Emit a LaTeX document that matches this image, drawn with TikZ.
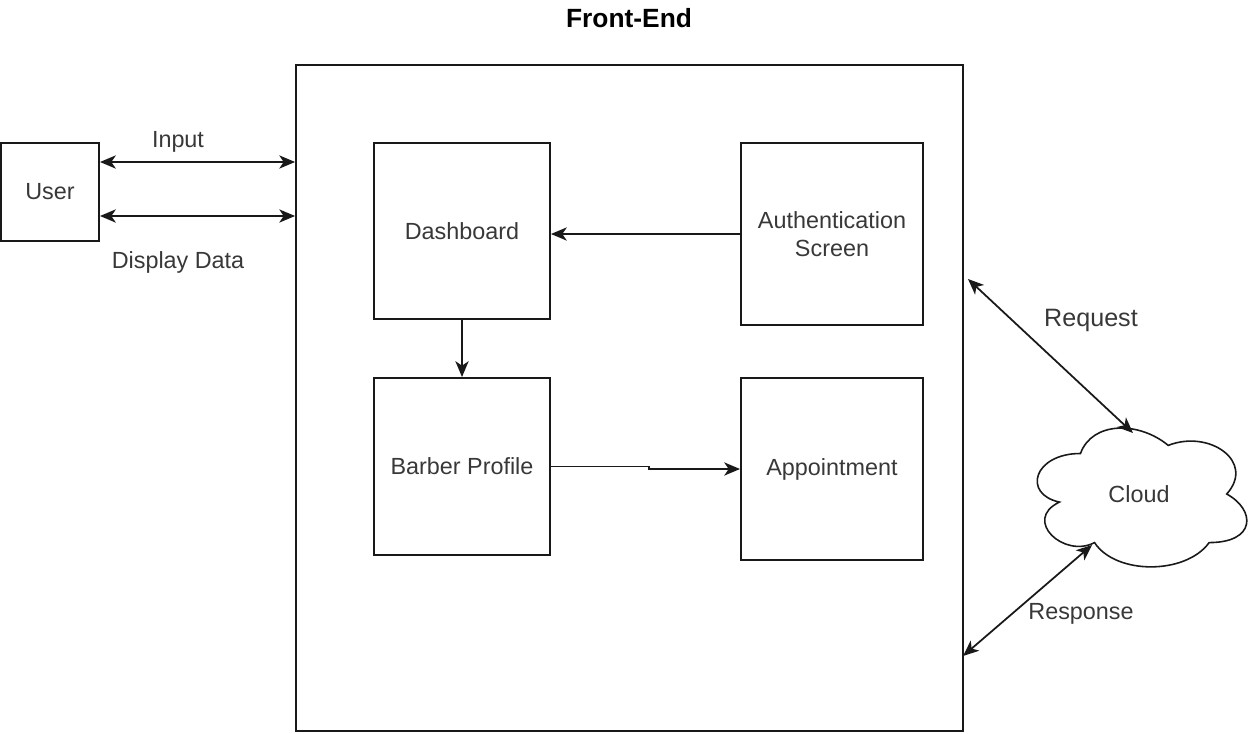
\documentclass[tikz,border=0pt]{standalone}
\usepackage{fontspec}
\setmainfont{Liberation Sans}
\usetikzlibrary{arrows.meta}
\definecolor{txt}{gray}{0.22}
\definecolor{ln}{gray}{0.1}
\tikzset{
  box/.style={draw=ln, line width=1.1pt, inner sep=0pt, text=txt, align=center,
              font=\fontsize{13.3}{16}\selectfont},
  lbl/.style={text=txt, inner sep=0pt, font=\fontsize{13.3}{16}\selectfont},
  conn/.style={draw=ln, line width=1pt, -{Stealth[length=9pt,width=7.5pt,inset=2.5pt]}},
  biconn/.style={draw=ln, line width=1pt, {Stealth[length=9pt,width=7.5pt,inset=2.5pt]}-{Stealth[length=9pt,width=7.5pt,inset=2.5pt]}}
}
\begin{document}
\begin{tikzpicture}[x=0.02cm, y=-0.02cm]
\useasboundingbox (0,0) rectangle (1249,734);
% title
\node[lbl, font=\fontsize{15}{18}\selectfont\bfseries, text=black] (title) at (629,18) {Front-End};
% front-end container
\node[box, minimum width=13.34cm, minimum height=13.32cm] (fe) at (629.5,398) {};
% user
\node[box, minimum width=1.96cm, minimum height=1.96cm] (user) at (50,192) {User};
% inner boxes
\node[box, minimum width=3.52cm, minimum height=3.52cm] (dash) at (462,231) {Dashboard};
\node[box, minimum width=3.64cm, minimum height=3.64cm] (auth) at (832,234) {Authentication\\Screen};
\node[box, minimum width=3.52cm, minimum height=3.54cm] (barber) at (462,466.5) {Barber Profile};
\node[box, minimum width=3.64cm, minimum height=3.64cm] (appt) at (832,469) {Appointment};
% cloud (drawn shape + named anchor node)
\begin{scope}[shift={(1022,413)}, x=4.68cm, y=-3.24cm]
  \draw[draw=ln, line width=0.9pt, fill=white]
    (0.25,0.25) .. controls (0.05,0.25) and (0,0.5) .. (0.16,0.55)
    .. controls (0,0.66) and (0.18,0.9) .. (0.31,0.8)
    .. controls (0.4,1) and (0.7,1) .. (0.8,0.8)
    .. controls (1,0.8) and (1,0.6) .. (0.875,0.5)
    .. controls (1,0.3) and (0.8,0.1) .. (0.625,0.2)
    .. controls (0.5,0.05) and (0.3,0.05) .. (0.25,0.25) -- cycle;
\end{scope}
\node[lbl] (cloud) at (1139,494) {Cloud};
\coordinate (cltop) at (1133,433);
\coordinate (clbot) at (1092,545);
\coordinate (reqA) at (968,279);
\coordinate (resA) at (963,656);
\coordinate (inY) at (0,162);
\coordinate (dispY) at (0,216);
% user <-> front-end
\draw[biconn] (user.east |- inY) -- (fe.west |- inY);
\draw[biconn] (user.east |- dispY) -- (fe.west |- dispY);
\node[lbl] (inlbl) at (178,142) {Input};
\node[lbl] (displbl) at (178,262) {Display Data};
% inner connectors
\draw[conn] (auth.west) -- (auth.west -| dash.east);
\draw[conn] (dash.south) -- (barber.north);
\draw[conn] (barber.east) -- ++(98,0) |- (appt.west);
% cloud connectors
\draw[biconn] (reqA) -- (cltop);
\draw[biconn] (resA) -- (clbot);
\node[lbl, font=\fontsize{14.3}{17}\selectfont] (reqlbl) at (1091,320) {Request};
\node[lbl] (reslbl) at (1081,614) {Response};
\end{tikzpicture}
\end{document}
